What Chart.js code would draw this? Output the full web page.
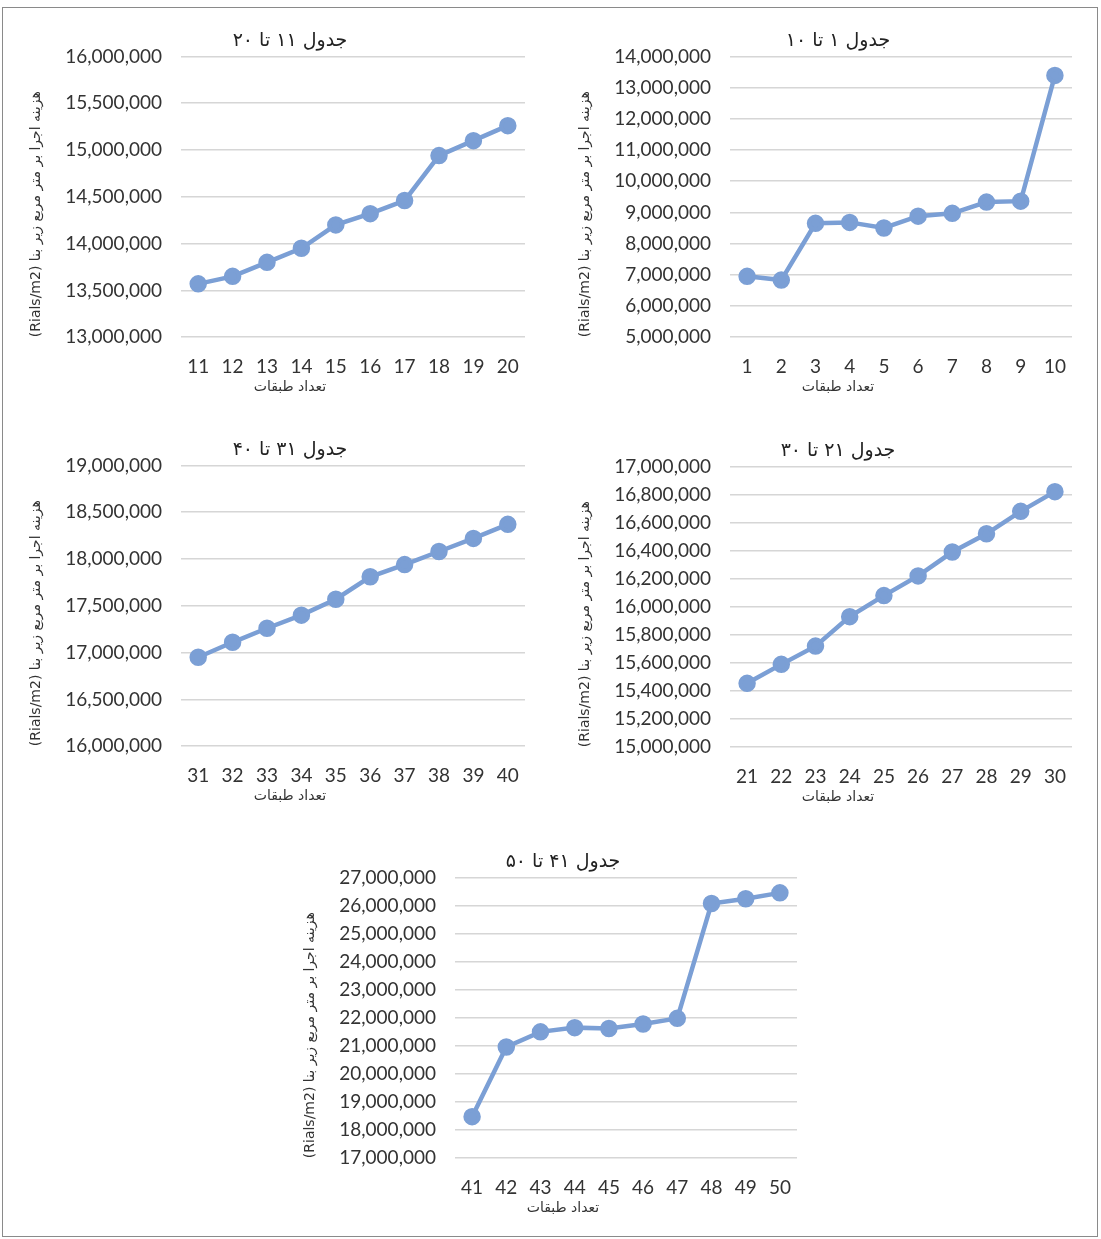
<!DOCTYPE html>
<html>
<head>
<meta charset="utf-8">
<title>Cost per floor count</title>
<script src="https://cdn.jsdelivr.net/npm/chart.js@4/dist/chart.umd.min.js"></script>
<style>
  html, body { margin: 0; padding: 0; background: #fff; }
  body { width: 1101px; height: 1239px; position: relative; overflow: hidden; }
  #frame { position: absolute; left: 2px; top: 7px; width: 1094px; height: 1228px; border: 1px solid #8a8a8a; }
  .box { position: absolute; }
</style>
</head>
<body>
<div id="frame"></div>
<div class="box" style="left:25px;top:26px;width:530px;height:370px;"><canvas id="cA"></canvas></div>
<div class="box" style="left:574px;top:26px;width:528px;height:370px;"><canvas id="cB"></canvas></div>
<div class="box" style="left:25px;top:435px;width:530px;height:370px;"><canvas id="cC"></canvas></div>
<div class="box" style="left:574px;top:436px;width:528px;height:370px;"><canvas id="cD"></canvas></div>
<div class="box" style="left:299px;top:847px;width:528px;height:370px;"><canvas id="cE"></canvas></div>
<script>
// floor counts per table
const floorsA = ['11', '12', '13', '14', '15', '16', '17', '18', '19', '20'];
const floorsB = ['1', '2', '3', '4', '5', '6', '7', '8', '9', '10'];
const floorsC = ['31', '32', '33', '34', '35', '36', '37', '38', '39', '40'];
const floorsD = ['21', '22', '23', '24', '25', '26', '27', '28', '29', '30'];
const floorsE = ['41', '42', '43', '44', '45', '46', '47', '48', '49', '50'];

// cost per m2 (Rials)
const costA = [13570000, 13650000, 13800000, 13950000, 14200000, 14320000, 14460000, 14940000, 15100000, 15260000];
const costB = [6950000, 6830000, 8650000, 8680000, 8500000, 8880000, 8970000, 9330000, 9360000, 13390000];
const costC = [16950000, 17110000, 17260000, 17400000, 17570000, 17810000, 17940000, 18080000, 18220000, 18370000];
const costD = [15455000, 15590000, 15720000, 15930000, 16080000, 16220000, 16390000, 16520000, 16680000, 16820000];
const costE = [18480000, 20960000, 21500000, 21650000, 21620000, 21780000, 21980000, 26070000, 26240000, 26450000];

const titles = {
  A: 'جدول ۱۱ تا ۲۰',
  B: 'جدول ۱ تا ۱۰',
  C: 'جدول ۳۱ تا ۴۰',
  D: 'جدول ۲۱ تا ۳۰',
  E: 'جدول ۴۱ تا ۵۰'
};
const yTitle = '(Rials/m2) هزینه اجرا بر متر مربع زیر بنا';
const xTitle = 'تعداد طبقات';

const lineColor = '#7b9fd5';
const tickFont = { family: 'Lato, "Open Sans", sans-serif', size: 19 };
const faFont = { family: '"DejaVu Sans", "Noto Sans", sans-serif', size: 14 };

function makeChart(id, labels, values, min, max, step, title) {
  return new Chart(document.getElementById(id), {
    type: 'line',
    data: {
      labels: labels,
      datasets: [{
        data: values,
        borderColor: lineColor,
        backgroundColor: lineColor,
        borderWidth: 4.5,
        pointRadius: 6.5,
        pointHoverRadius: 6.5,
        tension: 0
      }]
    },
    options: {
      responsive: true,
      maintainAspectRatio: false,
      animation: false,
      plugins: {
        legend: { display: false },
        tooltip: { enabled: false },
        title: {
          display: true,
          text: title,
          color: '#222',
          font: { family: '"DejaVu Sans", serif', size: 19, weight: 'normal' },
          padding: { top: 0, bottom: 4 }
        },
        subtitle: {
          display: true,
          position: 'bottom',
          text: xTitle,
          color: '#333',
          font: faFont,
          padding: { top: -17, bottom: 0 }
        }
      },
      scales: {
        x: {
          offset: true,
          grid: { display: false, drawTicks: false },
          border: { display: false },
          ticks: { color: '#333', font: tickFont, padding: 18, maxRotation: 0 }
        },
        y: {
          min: min,
          max: max,
          grid: { color: '#d6d6d6', lineWidth: 1.5, drawTicks: false },
          border: { display: false },
          ticks: {
            stepSize: step,
            color: '#333',
            font: tickFont,
            padding: 19,
            callback: v => Number(v).toLocaleString('en-US')
          },
          title: {
            display: true, text: yTitle, color: '#333', font: faFont,
            align: 'start', padding: { top: 3, bottom: 4 }
          },
          afterFit: s => { s.width = 156; }
        },
        // empty strip on the right so the titles centre on the whole box
        pad: {
          position: 'right',
          display: true,
          grid: { display: false, drawTicks: false },
          border: { display: false },
          ticks: { display: false },
          afterFit: s => { s.width = 30; }
        }
      }
    }
  });
}

makeChart('cA', floorsA, costA, 13000000, 16000000, 500000, titles.A);
makeChart('cB', floorsB, costB, 5000000, 14000000, 1000000, titles.B);
makeChart('cC', floorsC, costC, 16000000, 19000000, 500000, titles.C);
makeChart('cD', floorsD, costD, 15000000, 17000000, 200000, titles.D);
makeChart('cE', floorsE, costE, 17000000, 27000000, 1000000, titles.E);
</script>
</body>
</html>
